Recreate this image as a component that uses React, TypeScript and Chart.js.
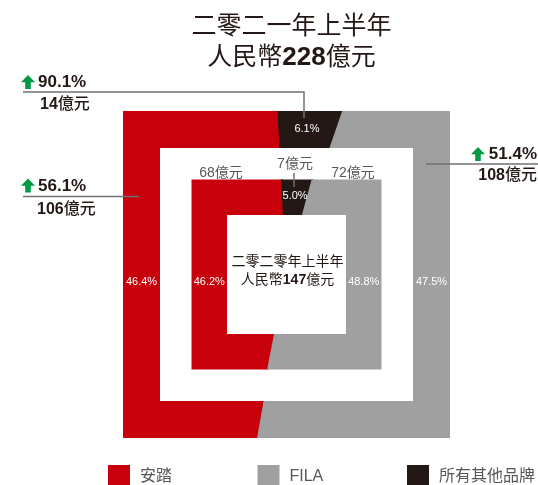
import { useEffect, useRef } from 'react';
import { Chart, ArcElement, DoughnutController } from 'chart.js';

Chart.register(ArcElement, DoughnutController);

// ---- data ----
const brands = ['安踏', 'FILA', '所有其他品牌'];
const brandColors = ['#C8000B', '#A0A0A0', '#231815'];
const share2021 = [46.4, 47.5, 6.1]; // %
const share2020 = [46.2, 48.8, 5.0]; // %
const revenue2021 = [106, 108, 14]; // 億元
const revenue2020 = [68, 72, 7]; // 億元
const growth2021 = [56.1, 51.4, 90.1]; // %
const totals = [228, 147]; // 億元
const periods = ['二零二一年上半年', '二零二零年上半年'];
const clockwiseOrder = [0, 2, 1]; // 安踏, 其他, FILA clockwise

// ---- styling ----
const FF = '"Liberation Sans", Arial, "Noto Sans CJK TC", sans-serif';
const DARK = '#231815';
const GREY_TEXT = '#595757';
const LINE = '#727171';
const GREEN = '#009944';
const rings = [
  { half: 163.5, hole: 126.5 },
  { half: 95, hole: 59.5 },
];

type Part = [string, string];

function drawRich(ctx: CanvasRenderingContext2D, parts: Part[], x: number, y: number, align: 'left' | 'center' | 'right', color: string) {
  ctx.save();
  ctx.fillStyle = color;
  ctx.textBaseline = 'middle';
  ctx.textAlign = 'left';
  const widths = parts.map(([t, f]) => {
    ctx.font = f;
    return ctx.measureText(t).width;
  });
  const total = widths.reduce((a, b) => a + b, 0);
  let cx = align === 'left' ? x : align === 'center' ? x - total / 2 : x - total;
  parts.forEach(([t, f], i) => {
    ctx.font = f;
    ctx.fillText(t, cx, y);
    cx += widths[i];
  });
  ctx.restore();
}

function drawArrow(ctx: CanvasRenderingContext2D, x: number, y: number, w: number, h: number) {
  ctx.save();
  ctx.fillStyle = GREEN;
  ctx.beginPath();
  ctx.moveTo(x + w / 2, y);
  ctx.lineTo(x + w, y + h * 0.52);
  ctx.lineTo(x + w * 0.7, y + h * 0.52);
  ctx.lineTo(x + w * 0.7, y + h);
  ctx.lineTo(x + w * 0.3, y + h);
  ctx.lineTo(x + w * 0.3, y + h * 0.52);
  ctx.lineTo(x, y + h * 0.52);
  ctx.closePath();
  ctx.fill();
  ctx.restore();
}

function line(ctx: CanvasRenderingContext2D, pts: number[][]) {
  ctx.save();
  ctx.strokeStyle = LINE;
  ctx.lineWidth = 1.5;
  ctx.beginPath();
  pts.forEach(([px, py], i) => (i === 0 ? ctx.moveTo(px, py) : ctx.lineTo(px, py)));
  ctx.stroke();
  ctx.restore();
}

const squarePlugin = {
  id: 'squareRings',
  beforeDatasetDraw(chart: any, args: any) {
    const meta = chart.getDatasetMeta(args.index);
    const arc = meta.data[0];
    if (!arc) return;
    const { x, y, innerRadius, outerRadius } = arc;
    const ring = rings[args.index];
    const ctx = chart.ctx as CanvasRenderingContext2D;
    ctx.save();
    ctx.beginPath();
    ctx.rect(x - ring.half, y - ring.half, ring.half * 2, ring.half * 2);
    ctx.rect(x - ring.hole, y - ring.hole, ring.hole * 2, ring.hole * 2);
    ctx.clip('evenodd');
    const k = args.index === 0 ? (ring.half * Math.SQRT2 + 8) / outerRadius : (ring.hole - 4) / innerRadius;
    ctx.translate(x, y);
    ctx.scale(k, k);
    ctx.translate(-x, -y);
  },
  afterDatasetDraw(chart: any) {
    chart.ctx.restore();
  },
  afterDatasetsDraw(chart: any) {
    const ctx = chart.ctx as CanvasRenderingContext2D;
    chart.data.datasets.forEach((ds: any, di: number) => {
      const meta = chart.getDatasetMeta(di);
      const ring = rings[di];
      const d = (ring.half + ring.hole) / 2;
      meta.data.forEach((arc: any, i: number) => {
        const mid = (arc.startAngle + arc.endAngle) / 2;
        const c = Math.cos(mid);
        const s = Math.sin(mid);
        let lx: number;
        let ly: number;
        if (Math.abs(s) >= Math.abs(c)) {
          lx = arc.x + (d * c) / Math.abs(s);
          ly = arc.y + Math.sign(s) * d - 1;
        } else {
          lx = arc.x + Math.sign(c) * d;
          ly = arc.y + 7;
        }
        ctx.save();
        ctx.fillStyle = '#FFFFFF';
        ctx.font = `11px ${FF}`;
        ctx.textAlign = 'center';
        ctx.textBaseline = 'middle';
        ctx.fillText(`${Number(ds.data[i]).toFixed(1)}%`, lx, ly);
        ctx.restore();
      });
    });
  },
  afterDraw(chart: any) {
    const ctx = chart.ctx as CanvasRenderingContext2D;
    const arc = chart.getDatasetMeta(0).data[0];
    const cx = arc.x;
    const cy = arc.y;

    // title
    drawRich(ctx, [[periods[0], `25px ${FF}`]], cx + 5, 27, 'center', DARK);
    drawRich(ctx, [['人民幣', `25px ${FF}`], [String(totals[0]), `bold 26px ${FF}`], ['億元', `25px ${FF}`]], cx + 5, 58, 'center', DARK);

    // center text
    drawRich(ctx, [[periods[1], `14px ${FF}`]], cx + 1, 262, 'center', DARK);
    drawRich(ctx, [['人民幣', `14px ${FF}`], [String(totals[1]), `bold 14px ${FF}`], ['億元', `14px ${FF}`]], cx + 1, 280.5, 'center', DARK);

    // inner ring amounts
    const innerPos = [[cx - 65.5, 173], [cx + 66.5, 173], [cx + 8.5, 164]];
    revenue2020.forEach((v, i) => {
      drawRich(ctx, [[String(v), `14px ${FF}`], ['億元', `14px ${FF}`]], innerPos[i][0], innerPos[i][1], 'center', GREY_TEXT);
    });
    line(ctx, [[cx + 7.5, 173], [cx + 7.5, 187]]);

    // callouts
    const pct = (v: number) => `${v.toFixed(1)}%`;
    // other brands (top-left)
    drawArrow(ctx, 21, 75, 14, 14);
    drawRich(ctx, [[pct(growth2021[2]), `bold 17px ${FF}`]], 38, 82.5, 'left', DARK);
    line(ctx, [[23, 92], [cx + 17.5, 92], [cx + 17.5, 118]]);
    drawRich(ctx, [[String(revenue2021[2]), `bold 16px ${FF}`], ['億元', `500 16px ${FF}`]], 40, 105, 'left', DARK);
    // Anta (left)
    drawArrow(ctx, 21, 178.5, 14, 14);
    drawRich(ctx, [[pct(growth2021[0]), `bold 17px ${FF}`]], 38, 186.5, 'left', DARK);
    line(ctx, [[23, 196.5], [139, 196.5]]);
    drawRich(ctx, [[String(revenue2021[0]), `bold 16px ${FF}`], ['億元', `500 16px ${FF}`]], 37, 209.5, 'left', DARK);
    // FILA (right)
    drawArrow(ctx, 471, 147, 14, 14);
    drawRich(ctx, [[pct(growth2021[1]), `bold 17px ${FF}`]], 537, 154, 'right', DARK);
    line(ctx, [[426, 164], [538, 164]]);
    drawRich(ctx, [[String(revenue2021[1]), `bold 16px ${FF}`], ['億元', `500 16px ${FF}`]], 537, 175.5, 'right', DARK);

    // legend
    brands.forEach((b, i) => {
      const lx = 108 + i * 149.5;
      ctx.save();
      ctx.fillStyle = brandColors[i];
      ctx.fillRect(lx, 465, 22, 22);
      ctx.restore();
      drawRich(ctx, [[b, `16px ${FF}`]], lx + 32, 476.5, 'left', GREY_TEXT);
    });
  },
};

export default function App() {
  const ref = useRef<HTMLCanvasElement | null>(null);
  useEffect(() => {
    document.body.style.margin = '0';
    if (!ref.current) return;
    const labels = clockwiseOrder.map((i) => brands[i]);
    const colors = clockwiseOrder.map((i) => brandColors[i]);
    const chart = new Chart(ref.current, {
      type: 'doughnut',
      data: {
        labels,
        datasets: [
          {
            label: periods[0],
            data: clockwiseOrder.map((i) => share2021[i]),
            backgroundColor: colors,
            borderColor: colors,
            borderWidth: 1,
            weight: 2,
            rotation: 190,
            hoverOffset: 0,
          } as any,
          {
            label: periods[1],
            data: clockwiseOrder.map((i) => share2020[i]),
            backgroundColor: colors,
            borderColor: colors,
            borderWidth: 1,
            weight: 1,
            rotation: 191,
            hoverOffset: 0,
          } as any,
        ],
      },
      options: {
        animation: false,
        responsive: true,
        maintainAspectRatio: false,
        cutout: '15%',
        events: [],
        layout: { padding: { left: 35, top: 64, right: 0, bottom: 0 } },
      } as any,
      plugins: [squarePlugin],
    });
    return () => chart.destroy();
  }, []);
  return (
    <div style={{ position: 'relative', width: 538, height: 485, background: '#fff' }}>
      <canvas ref={ref} />
    </div>
  );
}
